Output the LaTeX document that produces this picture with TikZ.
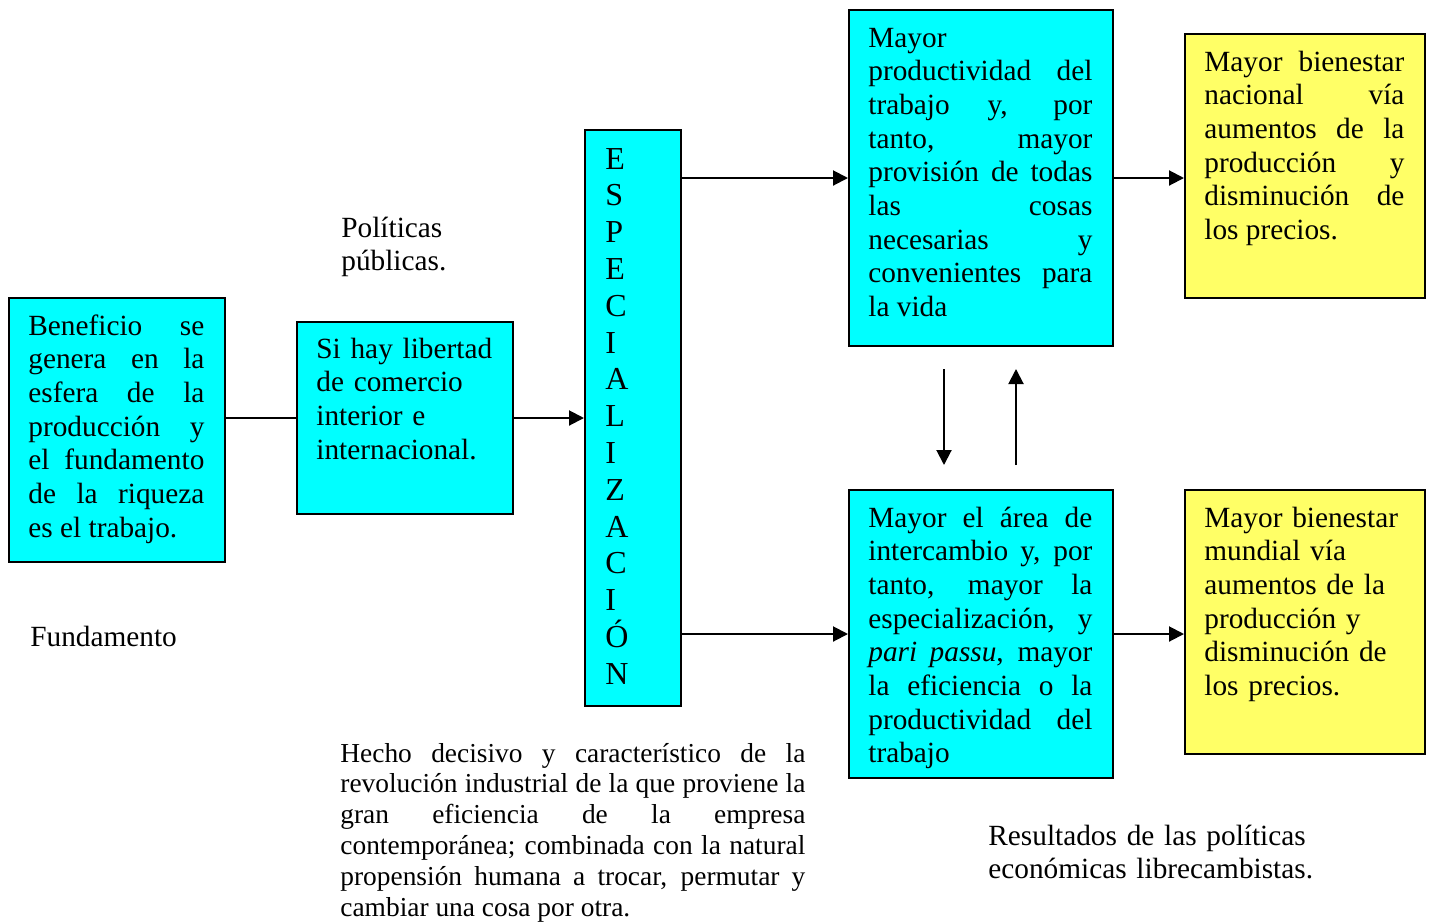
\documentclass[tikz,border=0pt]{standalone}
\usepackage{fontspec}
\setmainfont{Liberation Serif}
\usetikzlibrary{arrows.meta}
\definecolor{boxcyan}{RGB}{0,255,255}
\definecolor{boxyellow}{RGB}{255,255,102}
\tolerance=10000
\hbadness=10000
\begin{document}
\begin{tikzpicture}[x=0.5pt,y=-0.5pt,
  cbox/.style={draw=black, line width=1pt, fill=boxcyan, rectangle, inner sep=0pt, anchor=north west},
  ybox/.style={cbox, fill=boxyellow},
  txt/.style={inner sep=0pt, anchor=base west, font=\fontsize{14.65pt}{16.85pt}\selectfont},
  jtxt/.style={txt, align=justify},
  ltxt/.style={txt, align=left},
  arr/.style={line width=1pt, -{Triangle[length=7.5pt,width=7.5pt]}},
  plain/.style={line width=1pt}
]
\useasboundingbox[fill=white] (0,0) rectangle (1430,922);

% boxes
\node[cbox, minimum width=108pt, minimum height=132pt] (b1) at (8,297) {};
\node[cbox, minimum width=108pt, minimum height=96pt] (b2) at (296,321) {};
\node[cbox, minimum width=48pt, minimum height=288pt] (esp) at (584,129) {};
\node[cbox, minimum width=132pt, minimum height=168pt] (b4) at (848,9) {};
\node[ybox, minimum width=120pt, minimum height=132pt] (b5) at (1184,33) {};
\node[cbox, minimum width=132pt, minimum height=144pt] (b6) at (848,489) {};
\node[ybox, minimum width=120pt, minimum height=132pt] (b7) at (1184,489) {};

% box texts
\node[jtxt, text width=88pt] (t1) at (28,335) {Beneficio se\linebreak genera en la\linebreak esfera de la\linebreak producción y\linebreak el fundamento\linebreak de la riqueza\linebreak es el trabajo.};
\node[ltxt, text width=88pt] (t2) at (316,358) {Si hay libertad\\ de comercio\\ interior e\\ internacional.};
\node[ltxt, text width=20pt, font=\fontsize{16pt}{18.4pt}\selectfont] (tesp) at (605,169) {E\\S\\P\\E\\C\\I\\A\\L\\I\\Z\\A\\C\\I\\Ó\\N};
\node[jtxt, text width=112pt] (t4) at (868,47) {Mayor\\ productividad del\linebreak trabajo y, por\linebreak tanto, mayor\linebreak provisión de todas\linebreak las cosas\linebreak necesarias y\linebreak convenientes para\linebreak la vida};
\node[jtxt, text width=100pt] (t5) at (1204,71) {Mayor bienestar\linebreak nacional vía\linebreak aumentos de la\linebreak producción y\linebreak disminución de\linebreak los precios.};
\node[jtxt, text width=112pt] (t6) at (868,527) {Mayor el área de\linebreak intercambio y, por\linebreak tanto, mayor la\linebreak especialización, y\linebreak \textit{pari passu}, mayor\linebreak la eficiencia o la\linebreak productividad del\linebreak trabajo};
\node[ltxt, text width=100pt] (t7) at (1204,527) {Mayor bienestar\\ mundial vía\\ aumentos de la\\ producción y\\ disminución de\\ los precios.};

% free labels
\node[ltxt, text width=80pt] (pol) at (341,237) {Políticas\\ públicas.};
\node[txt] (fund) at (30,646) {Fundamento};
\node[jtxt, text width=232.5pt, font=\fontsize{13.7pt}{15.4pt}\selectfont] (hecho) at (340,762) {Hecho decisivo y característico de la\linebreak revolución industrial de la que proviene la\linebreak gran eficiencia de la empresa\linebreak contemporánea; combinada con la natural\linebreak propensión humana a trocar, permutar y\linebreak cambiar una cosa por otra.};
\node[ltxt, text width=180pt] (res) at (988,845) {Resultados de las políticas\\ económicas librecambistas.};

% connectors
\draw[plain] (b1.east |- b2.west) -- (b2.west);
\draw[arr] (b2.east) -- (b2.east -| esp.west);
\draw[arr] (esp.east |- b4.west) -- (b4.west);
\draw[arr] (esp.east |- b6.west) -- (b6.west);
\draw[arr] (b4.east) -- (b4.east -| b5.west);
\draw[arr] (b6.east) -- (b6.east -| b7.west);
\coordinate (d1) at (944,369);
\coordinate (d2) at (944,465);
\coordinate (u1) at (1016,465);
\coordinate (u2) at (1016,369);
\draw[arr] (d1) -- (d2);
\draw[arr] (u1) -- (u2);
\end{tikzpicture}
\end{document}
